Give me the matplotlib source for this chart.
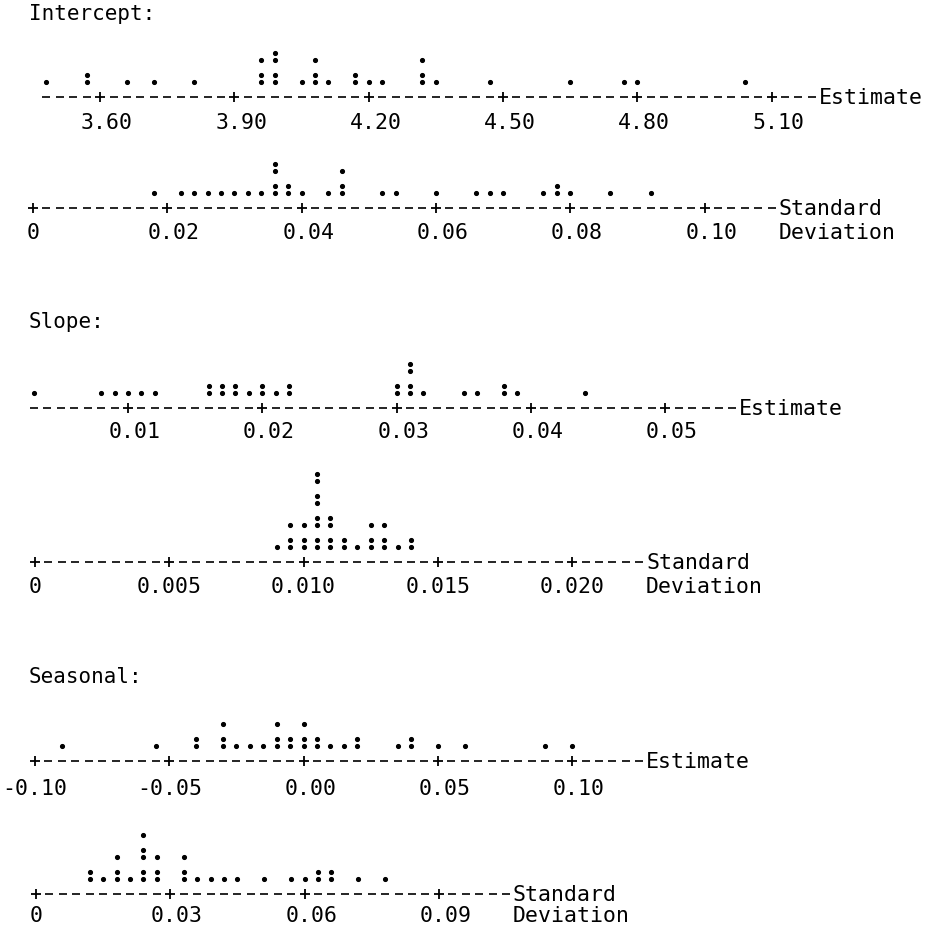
## Import Required Libraries
import numpy as np
import matplotlib
matplotlib.use("Agg")
import matplotlib.pyplot as plt

# Simulated estimates (one value per run)

intercept_est = [3.48, 3.57, 3.57, 3.66, 3.72, 3.81,
                 3.96, 3.96, 3.96, 3.99, 3.99, 3.99, 3.99,
                 4.05, 4.08, 4.08, 4.08, 4.11, 4.17, 4.17, 4.20, 4.23,
                 4.32, 4.32, 4.32, 4.35, 4.47, 4.65, 4.77, 4.80, 5.04]
intercept_sd = [0.018, 0.022, 0.024, 0.026, 0.028, 0.030, 0.032, 0.034,
                0.036, 0.036, 0.036, 0.036, 0.038, 0.038, 0.040,
                0.044, 0.046, 0.046, 0.046, 0.052, 0.054, 0.060,
                0.066, 0.068, 0.070, 0.076, 0.078, 0.078, 0.080, 0.086, 0.092]

slope_est = [0.003, 0.008, 0.009, 0.010, 0.011, 0.012,
             0.016, 0.016, 0.017, 0.017, 0.018, 0.018, 0.019,
             0.020, 0.020, 0.021, 0.022, 0.022,
             0.030, 0.030, 0.031, 0.031, 0.031, 0.031, 0.032,
             0.035, 0.036, 0.038, 0.038, 0.039, 0.044]
slope_sd = [0.0090, 0.0095, 0.0095, 0.0095, 0.0100, 0.0100, 0.0100,
            0.0105, 0.0105, 0.0105, 0.0105, 0.0105, 0.0105, 0.0105, 0.0105,
            0.0110, 0.0110, 0.0110, 0.0110, 0.0115, 0.0115, 0.0120,
            0.0125, 0.0125, 0.0125, 0.0130, 0.0130, 0.0130, 0.0135,
            0.0140, 0.0140]

seasonal_est = [-0.090, -0.055, -0.040, -0.040, -0.030, -0.030, -0.030,
                -0.025, -0.020, -0.015, -0.010, -0.010, -0.010,
                -0.005, -0.005, 0.000, 0.000, 0.000, 0.005, 0.005,
                0.010, 0.015, 0.020, 0.020, 0.035, 0.040, 0.040,
                0.050, 0.060, 0.090, 0.100]
seasonal_sd = [0.012, 0.012, 0.015, 0.018, 0.018, 0.018, 0.021,
               0.024, 0.024, 0.024, 0.024, 0.024, 0.027, 0.027, 0.027,
               0.033, 0.033, 0.033, 0.036, 0.039, 0.042, 0.045,
               0.051, 0.057, 0.060, 0.063, 0.063, 0.066, 0.066, 0.072, 0.078]

# Tick values and labels for each axis
intercept_est_ticks = [3.60, 3.90, 4.20, 4.50, 4.80, 5.10]
intercept_est_labels = ["3.60", "3.90", "4.20", "4.50", "4.80", "5.10"]
intercept_sd_ticks = [0.0, 0.02, 0.04, 0.06, 0.08, 0.10]
intercept_sd_labels = ["0", "0.02", "0.04", "0.06", "0.08", "0.10"]
slope_est_ticks = [0.01, 0.02, 0.03, 0.04, 0.05]
slope_est_labels = ["0.01", "0.02", "0.03", "0.04", "0.05"]
slope_sd_ticks = [0.0, 0.005, 0.010, 0.015, 0.020]
slope_sd_labels = ["0", "0.005", "0.010", "0.015", "0.020"]
seasonal_est_ticks = [-0.10, -0.05, 0.00, 0.05, 0.10]
seasonal_est_labels = ["-0.10", "-0.05", "0.00", "0.05", "0.10"]
seasonal_sd_ticks = [0.0, 0.03, 0.06, 0.09]
seasonal_sd_labels = ["0", "0.03", "0.06", "0.09"]

# Page layout (pixels): the output imitates a line-printer dot plot
W, H = 933, 928
CW = 13.43          # width of one printer column
MONO = "DejaVu Sans Mono"
FS = 15.5

fig = plt.figure(figsize=(W / 100, H / 100), dpi=100)
fig.patch.set_facecolor("white")


def dotplot(values, v0, step, ncols, axis_y, col0_x, ticks, labels,
            lab_dy, end_text):
    # one axes per dot plot, y measured in pixels above the axis line
    ax = fig.add_axes([(col0_x - CW / 2) / W, 1 - (axis_y + 40) / H,
                       ncols * CW / W, 140 / H])
    ax.set_xlim(v0 - step / 2, v0 + (ncols - 0.5) * step)
    ax.set_ylim(-40, 100)
    ax.axis("off")

    # axis line made of dashes with a + at every tick
    tick_cols = set(np.round((np.array(ticks) - v0) / step).astype(int))
    dash_cols = np.array([c for c in range(ncols) if c not in tick_cols])
    ax.plot(v0 + dash_cols * step, np.zeros(len(dash_cols)), ls="none",
            marker="_", ms=6.2, mew=1.2, color="black", clip_on=False)
    ax.plot(ticks, np.zeros(len(ticks)), ls="none", marker="+", ms=7,
            mew=1.3, color="black", clip_on=False)

    # stack the values column by column: '.' is one dot, ':' two
    cols = np.round((np.asarray(values) - v0) / step).astype(int)
    xs, ys, seen = [], [], {}
    for c in sorted(cols):
        k = seen.get(c, 0)
        seen[c] = k + 1
        xs.append(v0 + c * step)
        ys.append(15 + (k // 2) * 22 + (k % 2) * 7.5)
    ax.plot(xs, ys, ls="none", marker="o", ms=2.7, color="black",
            clip_on=False)

    # tick labels (even-length labels sit half a column to the right)
    for t, lab in zip(ticks, labels):
        dx = step / 2 if len(lab) % 2 == 0 else 0
        ax.text(t + dx, -lab_dy, lab, ha="center", va="center",
                fontsize=FS, family=MONO)

    xend = v0 + (ncols - 0.5) * step
    ax.text(xend, 0, end_text[0], ha="left", va="center",
            fontsize=FS, family=MONO)
    if len(end_text) > 1:
        ax.text(xend, -lab_dy, end_text[1], ha="left", va="center",
                fontsize=FS, family=MONO)
    return ax


# Section headings
fig.text(29 / W, 1 - 14 / H, "Intercept:", ha="left", va="center",
         fontsize=15, family=MONO)
fig.text(29 / W, 1 - 322 / H, "Slope:", ha="left", va="center",
         fontsize=15, family=MONO)
fig.text(29 / W, 1 - 677 / H, "Seasonal:", ha="left", va="center",
         fontsize=15, family=MONO)

# Intercept
dotplot(intercept_est, 3.48, 0.03, 58, 98, 46.4,
        intercept_est_ticks, intercept_est_labels, 25, ["Estimate"])
dotplot(intercept_sd, 0.0, 0.002, 56, 209, 33,
        intercept_sd_ticks, intercept_sd_labels, 24,
        ["Standard", "Deviation"])

# Slope
dotplot(slope_est, 0.003, 0.001, 53, 409, 34,
        slope_est_ticks, slope_est_labels, 23, ["Estimate"])
dotplot(slope_sd, 0.0, 0.0005, 46, 563, 35,
        slope_sd_ticks, slope_sd_labels, 24, ["Standard", "Deviation"])

# Seasonal
dotplot(seasonal_est, -0.10, 0.005, 46, 762, 35,
        seasonal_est_ticks, seasonal_est_labels, 27, ["Estimate"])
dotplot(seasonal_sd, 0.0, 0.003, 36, 895, 36,
        seasonal_sd_ticks, seasonal_sd_labels, 21, ["Standard", "Deviation"])

# Save Chart
fig.savefig("out.png", dpi=100, facecolor="white")
